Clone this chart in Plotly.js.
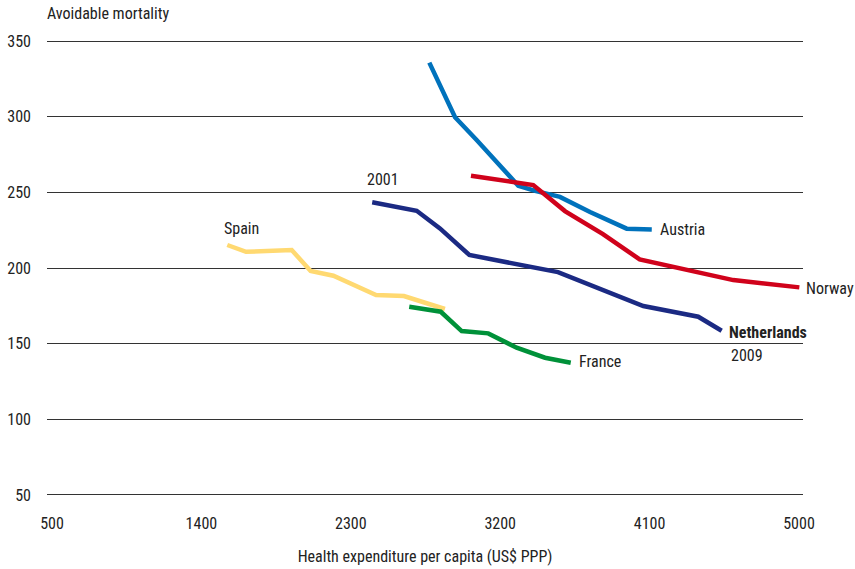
<!DOCTYPE html>
<html><head><meta charset="utf-8">
<script src="https://cdn.plot.ly/plotly-3.0.1.min.js"></script>
<style>html,body{margin:0;padding:0;background:#fff}#chart{width:855px;height:569px}</style>
</head><body><div id="chart"></div>
<script>
var FONT = "Roboto Condensed, Liberation Sans Narrow, Arial Narrow, sans-serif";
var FS = 16;

var austriaX = [2773, 2928, 3058, 3309, 3410, 3560, 3741, 3962, 4113];
var austriaY = [335.7, 299.6, 284.6, 254.4, 251, 247, 237, 226, 225.5];

var norwayX = [3024, 3399, 3590, 3819, 4040, 4384, 4604, 5002];
var norwayY = [261, 254.8, 237.6, 222.4, 205.7, 197.5, 192, 187.2];

var netherlandsX = [2429, 2697, 2837, 3014, 3548, 3801, 4062, 4393, 4534];
var netherlandsY = [243.4, 237.8, 226.2, 208.6, 197.3, 186.5, 174.9, 167.8, 158.5];

var spainX = [1556, 1669, 1944, 2058, 2195, 2452, 2620, 2867];
var spainY = [215.2, 210.7, 211.9, 198, 194.9, 182.1, 181.5, 172.9];

var franceX = [2652, 2842, 2968, 3128, 3299, 3470, 3625];
var franceY = [174.4, 171.1, 158.3, 156.8, 147.3, 140.7, 137.4];

var xTicks = [500, 1400, 2300, 3200, 4100, 5000];
var yTicks = [50, 100, 150, 200, 250, 300, 350];

var X0 = 470, X1 = 5024, Y0 = 48, Y1 = 352;

function line(x, y, color, name) {
  return {x: x, y: y, type: 'scatter', mode: 'lines', name: name,
    line: {color: color, width: 4.5, shape: 'linear'}, hoverinfo: 'skip'};
}

var data = [
  line(spainX, spainY, '#FFD971', 'Spain'),
  line(franceX, franceY, '#009139', 'France'),
  line(netherlandsX, netherlandsY, '#1B2A83', 'Netherlands'),
  line(austriaX, austriaY, '#0072BC', 'Austria'),
  line(norwayX, norwayY, '#D0021B', 'Norway')
];

function lab(text, x, y, xanchor) {
  return {text: text, x: (x - X0) / (X1 - X0), y: (y - Y0) / (Y1 - Y0),
    xref: 'paper', yref: 'paper', showarrow: false,
    xanchor: xanchor || 'left', yanchor: 'middle',
    font: {family: FONT, size: FS, color: '#222'}};
}

var nL = netherlandsX.length - 1;
var annotations = [
  lab('Austria', austriaX[austriaX.length-1] + 40, austriaY[austriaY.length-1]),
  lab('Norway', norwayX[norwayX.length-1] + 28, norwayY[norwayY.length-1] - 0.5),
  lab('<b>Netherlands</b>', netherlandsX[nL] + 35, netherlandsY[nL] - 1),
  lab('2009', netherlandsX[nL] + 45, netherlandsY[nL] - 16.5),
  lab('France', franceX[franceX.length-1] + 40, franceY[franceY.length-1] + 0.5),
  lab('Spain', spainX[0] - 33, spainY[0] + 11),
  lab('2001', netherlandsX[0] - 45, netherlandsY[0] + 15),
  {text: 'Avoidable mortality', xref: 'paper', yref: 'paper', x: -0.002, y: 1.053,
   xanchor: 'left', yanchor: 'middle', showarrow: false,
   font: {family: FONT, size: FS, color: '#222'}}
];

var layout = {
  width: 855, height: 569,
  margin: {l: 47, r: 52, t: 38, b: 71},
  paper_bgcolor: '#fff', plot_bgcolor: '#fff',
  showlegend: false,
  font: {family: FONT, size: FS, color: '#222'},
  xaxis: {
    range: [X0, X1], tickvals: xTicks, ticktext: xTicks.map(String),
    showgrid: false, zeroline: false, showline: false,
    ticks: '', ticklabelstandoff: 14,
    tickfont: {family: FONT, size: FS, color: '#222'},
    title: {text: 'Health expenditure per capita (US$ PPP)', standoff: 18,
            font: {family: FONT, size: FS, color: '#222'}}
  },
  yaxis: {
    range: [Y0, Y1], tickvals: yTicks, ticktext: yTicks.map(String),
    showgrid: true, gridcolor: '#333', gridwidth: 1,
    zeroline: false, showline: false, ticks: '', ticklabelstandoff: 15,
    tickfont: {family: FONT, size: FS, color: '#222'}
  },
  annotations: annotations
};

Plotly.newPlot('chart', data, layout, {displayModeBar: false, staticPlot: true});
</script></body></html>
